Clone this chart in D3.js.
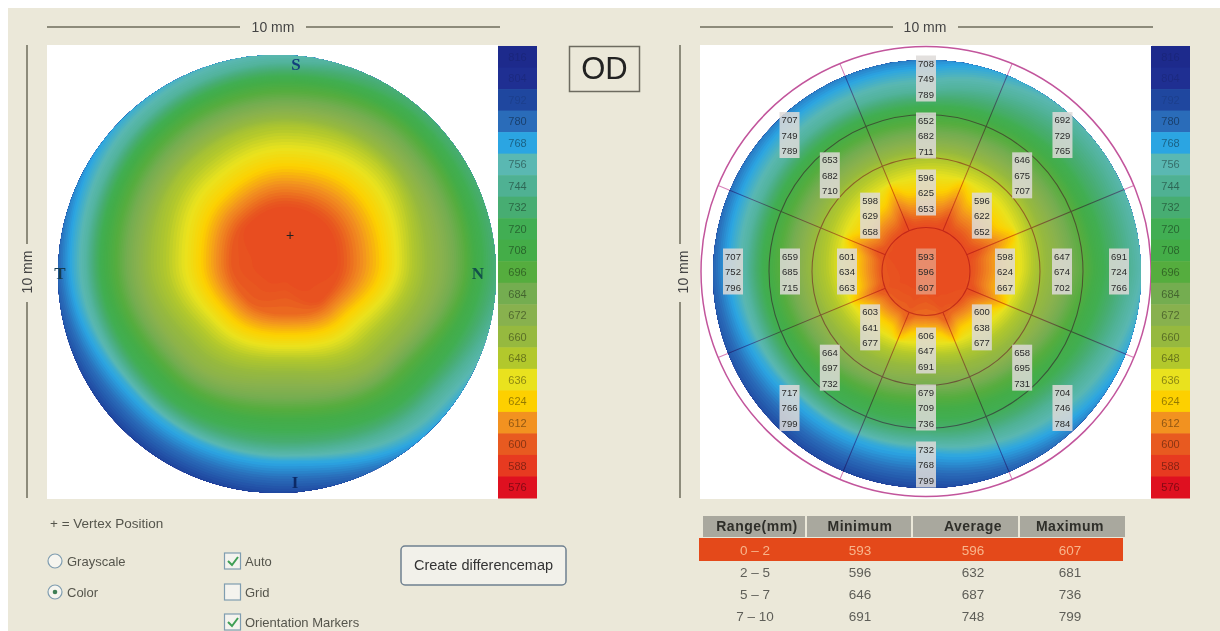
<!DOCTYPE html>
<html><head><meta charset="utf-8">
<script src="https://cdnjs.cloudflare.com/ajax/libs/d3/7.8.5/d3.min.js"></script>
<style>
html,body{margin:0;padding:0;background:#fff;overflow:hidden}
svg{display:block;filter:blur(.5px)}
text{font-family:"Liberation Sans",Arial,sans-serif}
</style></head><body>
<svg id="c" width="1220" height="631"></svg>
<script>
// ---- data ----
const legendValues=[816,804,792,780,768,756,744,732,720,708,696,684,672,660,648,636,624,612,600,588,576];
const legendColors=["#1d2a8c","#1f2f92","#1f479f","#2a6cb9","#2ba5e2","#5ab8b2","#4fb193","#47ad72","#41ae53","#44ad48","#55ad3e","#74ad50","#88b14e","#96b93f","#b2c82c","#e9e21e","#fdd000","#f29220","#e85a20","#e73a20","#df1020"];
const sectorAngles=[0,45,90,135,180,225,270,315]; // degrees clockwise from superior
const centerValues=[593,596,607];
const ring2=[[596,625,653],[596,622,652],[598,624,667],[600,638,677],[606,647,691],[603,641,677],[601,634,663],[598,629,658]];
const ring3=[[652,682,711],[646,675,707],[647,674,702],[658,695,731],[679,709,736],[664,697,732],[659,685,715],[653,682,710]];
const ring4=[[708,749,789],[692,729,765],[691,724,766],[704,746,784],[732,768,799],[717,766,799],[707,752,796],[707,749,789]];
const tableHead=["Range(mm)","Minimum","Average","Maximum"];
const tableRows=[["0 – 2",593,596,607],["2 – 5",596,632,681],["5 – 7",646,687,736],["7 – 10",691,748,799]];
const orientation=[["S",296,70,"#123f7c"],["I",295,488,"#0c2a66"],["T",60,279,"#143c52"],["N",478,279,"#12504a"]];

const svg=d3.select("#c");
const BG="#ebe8d9",RULE="#8d8b7b";
svg.append("rect").attr("x",8).attr("y",8).attr("width",1212).attr("height",623).attr("fill",BG);

const color=d3.scaleLinear().domain(legendValues).range(legendColors).clamp(true);
const ringRadii=[44,79,114,135,157,176,214];

// radial thickness profile per direction, built from sector min / average / max
const profiles=sectorAngles.map((a,i)=>{
  const T=[centerValues[0],ring2[i][0],ring2[i][1],(ring2[i][2]+ring3[i][0])/2,ring3[i][1],(ring3[i][2]+ring4[i][0])/2,ring4[i][1],ring4[i][2]];
  return d3.scaleLinear().domain(T).range([0,...ringRadii]);
});
const levels=d3.range(830,597,-2);
const angleSteps=d3.range(0,360,3);

function drawMap(g,id,cx,cy,dx,dy,R,radial,spoke,smooth){
  const defs=svg.append("defs");
  defs.append("clipPath").attr("id",id).append("circle").attr("cx",cx).attr("cy",cy).attr("r",R);
  const m=g.append("g").attr("clip-path",`url(#${id})`);
  m.append("circle").attr("cx",cx).attr("cy",cy).attr("r",R).attr("fill",color(830));
  const lr=d3.lineRadial().curve(d3.curveCardinalClosed);
  levels.forEach(T=>{
    const pts=angleSteps.map(deg=>{
      const u=deg/45,k=Math.floor(u)%8,f=u-Math.floor(u);
      const s=smooth?(1-Math.cos(f*Math.PI))/2:f;
      let r=profiles[k](T)*(1-s)+profiles[(k+1)%8](T)*s;
      if(spoke&&T<640){
        const off=Math.abs(((deg-22.5)%45+45)%45);
        const d=Math.min(off,45-off);
        r*=1+spoke*Math.exp(-d*d/40)*Math.min(1,(640-T)/14);
      }
      return [deg*Math.PI/180,radial(Math.max(r,0))];
    });
    m.append("path").attr("d",lr(pts)).attr("transform",`translate(${dx},${dy})`).attr("fill",color(T-3));
  });
}

// white map backgrounds
svg.append("rect").attr("x",47).attr("y",45).attr("width",451).attr("height",454).attr("fill","#fff");
svg.append("rect").attr("x",700).attr("y",45).attr("width",452).attr("height",454).attr("fill","#fff");

// left map
const leftMap=svg.append("g");
drawMap(leftMap,"clipL",277,274,285,262,219,d3.scaleLinear().domain([0,114,214,400]).range([0,136,238,430]),0,true);
orientation.forEach(o=>leftMap.append("text").attr("x",o[1]).attr("y",o[2]).attr("text-anchor","middle")
  .attr("font-size",17).attr("font-weight","bold").style("font-family","'Liberation Serif',serif").attr("fill",o[3]).text(o[0]));
leftMap.append("text").attr("x",290).attr("y",240).attr("text-anchor","middle").attr("font-size",14).attr("fill","#222").text("+");

// right map
const CX=926,CY=271.5;
const rightMap=svg.append("g");
drawMap(rightMap,"clipR",927,274,CX,CY,214,d3.scaleLinear().domain([0,150,214,400]).range([0,150,224,410]),0.14,false);
const overlay=rightMap.append("g").attr("fill","none").attr("stroke","#d880b8").attr("stroke-width",1.1).style("mix-blend-mode","multiply");
[44,114,157].forEach(r=>overlay.append("circle").attr("cx",CX).attr("cy",CY).attr("r",r));
sectorAngles.forEach(a=>{
  const t=(a+22.5)*Math.PI/180;
  overlay.append("line").attr("x1",CX+44*Math.sin(t)).attr("y1",CY-44*Math.cos(t))
    .attr("x2",CX+225*Math.sin(t)).attr("y2",CY-225*Math.cos(t));
});
rightMap.append("circle").attr("cx",CX).attr("cy",CY).attr("r",225).attr("fill","none").attr("stroke","#c2559c").attr("stroke-width",1.5);
function cell(x,y,vals,bg,op){
  const g=rightMap.append("g");
  g.append("rect").attr("x",x-10).attr("y",y-23).attr("width",20).attr("height",46).attr("fill",bg||"#dedbd8").attr("fill-opacity",op||.85);
  vals.forEach((v,i)=>g.append("text").attr("x",x).attr("y",y+(i-1)*15.5+3.5).attr("text-anchor","middle")
    .attr("font-size",9.5).attr("fill","#2a2a2a").text(v));
}
cell(CX,CY,centerValues,"#e8b8a0",.6);
[[ring2,79],[ring3,136],[ring4,193]].forEach(([ring,r])=>{
  ring.forEach((vals,i)=>{
    const t=sectorAngles[i]*Math.PI/180;
    cell(CX+r*Math.sin(t),CY-r*Math.cos(t),vals);
  });
});

// legends
[498,1151].forEach(x=>{
  const y=d3.scaleBand().domain(legendValues).range([46,498]);
  const l=svg.append("g");
  legendValues.forEach(v=>{
    l.append("rect").attr("x",x).attr("y",y(v)).attr("width",39).attr("height",y.bandwidth()+.5).attr("fill",color(v));
    l.append("text").attr("x",x+19.5).attr("y",y(v)+y.bandwidth()/2+4).attr("text-anchor","middle")
      .attr("font-size",11).attr("fill","#000").attr("fill-opacity",v>=792?.12:.42).text(v);
  });
});

// 10 mm dimension rules
function hRule(x0,x1,x2,x3,tx){
  [[x0,x1],[x2,x3]].forEach(p=>svg.append("line").attr("x1",p[0]).attr("x2",p[1]).attr("y1",27).attr("y2",27).attr("stroke",RULE).attr("stroke-width",2));
  svg.append("text").attr("x",tx).attr("y",32).attr("text-anchor","middle").attr("font-size",14).attr("fill","#444").text("10 mm");
}
hRule(47,240,306,500,273);
hRule(700,893,958,1153,925);
function vRule(x,tx){
  [[45,244],[302,498]].forEach(p=>svg.append("line").attr("x1",x).attr("x2",x).attr("y1",p[0]).attr("y2",p[1]).attr("stroke",RULE).attr("stroke-width",2));
  svg.append("text").attr("transform",`translate(${tx},272) rotate(-90)`).attr("text-anchor","middle").attr("font-size",14).attr("fill","#444").text("10 mm");
}
vRule(27,32);
vRule(680,688);

// OD box
svg.append("rect").attr("x",569.5).attr("y",46.5).attr("width",70).attr("height",45).attr("fill","none").attr("stroke","#6d6b60").attr("stroke-width",1.5);
svg.append("text").attr("x",604.5).attr("y",79).attr("text-anchor","middle").attr("font-size",31).attr("fill","#222").text("OD");

// table
const colX=[703,807,913,1020],colW=[102,104,105,105],colC=[757,860,973,1070];
tableHead.forEach((h,i)=>{
  svg.append("rect").attr("x",colX[i]).attr("y",516).attr("width",colW[i]).attr("height",21).attr("fill","#a9a89e");
  svg.append("text").attr("x",colC[i]).attr("y",531).attr("text-anchor","middle").attr("font-size",14).attr("font-weight","bold").attr("letter-spacing",.5).attr("fill","#2f2f2a").text(h);
});
svg.append("rect").attr("x",699).attr("y",538).attr("width",424).attr("height",23).attr("fill","#e4491a");
const rowY=d3.scalePoint().domain(tableRows.map(r=>r[0])).range([555,621]);
tableRows.forEach((row,ri)=>row.forEach((v,i)=>{
  svg.append("text").attr("x",i?colC[i]:755).attr("y",rowY(row[0])).attr("text-anchor","middle").attr("font-size",13.5)
    .attr("fill",ri===0?"#f8b58c":"#5e5e58").text(v);
}));

// form controls
const ctl=(x,y,t,s)=>svg.append("text").attr("x",x).attr("y",y).attr("font-size",s||13).attr("fill","#55554c").text(t);
ctl(50,528,"+ = Vertex Position",13.5);
[[561,"Grayscale",false],[592,"Color",true]].forEach(([y,t,on])=>{
  svg.append("circle").attr("cx",55).attr("cy",y).attr("r",7).attr("fill","#f6f5ef").attr("stroke","#7f9db0").attr("stroke-width",1.2);
  if(on) svg.append("circle").attr("cx",55).attr("cy",y).attr("r",2.3).attr("fill","#3f7f55");
  ctl(67,y+5,t);
});
[[561,"Auto",true],[592,"Grid",false],[622,"Orientation Markers",true]].forEach(([y,t,on])=>{
  svg.append("rect").attr("x",224.5).attr("y",y-8).attr("width",16).attr("height",16).attr("fill","#f4f3ee").attr("stroke","#7f9db0").attr("stroke-width",1.2);
  if(on) svg.append("path").attr("d",`M228,${y} l4,4 l6,-8`).attr("fill","none").attr("stroke","#3f9f55").attr("stroke-width",2);
  ctl(245,y+5,t);
});
svg.append("rect").attr("x",401).attr("y",546).attr("width",165).attr("height",39).attr("rx",4).attr("fill","#f2f1ea").attr("stroke","#6f8090").attr("stroke-width",1.5);
svg.append("text").attr("x",483.5).attr("y",570).attr("text-anchor","middle").attr("font-size",14.5).attr("fill","#333").text("Create differencemap");
</script>
</body></html>
